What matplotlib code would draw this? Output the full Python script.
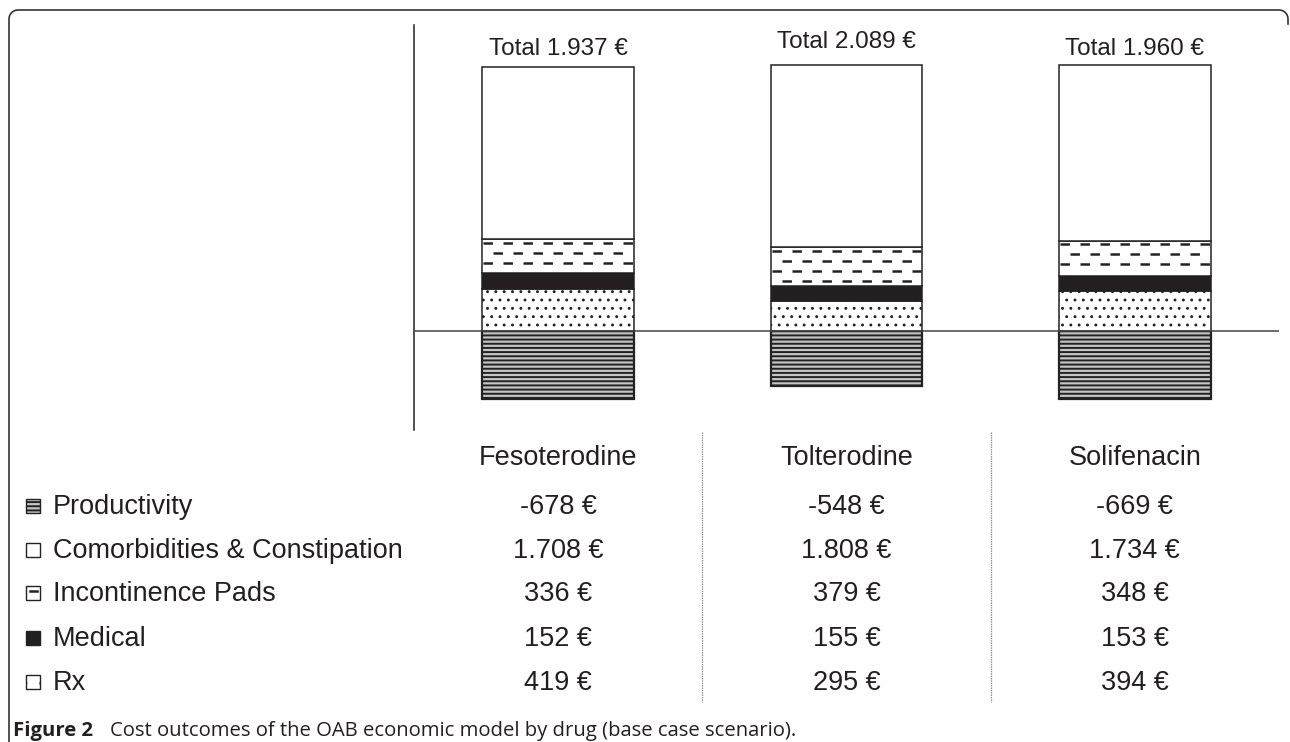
import numpy as np
import matplotlib
matplotlib.use('Agg')
import matplotlib.pyplot as plt
from matplotlib.patches import Rectangle
from matplotlib.lines import Line2D
from matplotlib.transforms import blended_transform_factory

# ── data ──────────────────────────────────────────────────────────────────────
drugs = ['Fesoterodine', 'Tolterodine', 'Solifenacin']
categories = ['Productivity', 'Comorbidities & Constipation', 'Incontinence Pads', 'Medical', 'Rx']
productivity = [-678, -548, -669]
comorbidities = [1708, 1808, 1734]
pads = [336, 379, 348]
medical = [152, 155, 153]
rx = [419, 295, 394]

plt.rcParams['font.family'] = ['Liberation Sans', 'DejaVu Sans']
plt.rcParams['lines.scale_dashes'] = False
plt.rcParams['hatch.linewidth'] = 1.4

W, H = 1290, 742
INK = '#231f20'


def fx(x):
    return x / W


def fy(y):
    return 1 - y / H


def eur(v):
    s = f'{abs(v):,}'.replace(',', '.')
    return ('-' if v < 0 else '') + s + ' €'


def thin_hatch(patches, lw):
    for p in patches:
        if hasattr(p, 'set_hatch_linewidth'):
            p.set_hatch_linewidth(lw)


totals = [p + c + d + m + r for p, c, d, m, r in zip(productivity, comorbidities, pads, medical, rx)]

fig = plt.figure(figsize=(W / 100, H / 100), dpi=100)

# ── frame (rounded corner top-left / top-right) ─────────────────────────────
r = 9
t = np.linspace(np.pi, np.pi / 2, 12)
tl_x = 9 + r + r * np.cos(t)
tl_y = 10 + r - r * np.sin(t)
t2 = np.linspace(np.pi / 2, 0, 12)
tr_x = 1288 - r + r * np.cos(t2)
tr_y = 10 + r - r * np.sin(t2)
px = np.concatenate([[9], tl_x, tr_x, [1288]])
py = np.concatenate([[H + 5], tl_y, tr_y, [24]])
fig.add_artist(Line2D(fx(px), fy(py), transform=fig.transFigure, color='#333333', lw=1.2))

# ── main axes ────────────────────────────────────────────────────────────────
ax = fig.add_axes([fx(414), fy(430), (1279 - 414) / W, (430 - 25) / H])
ax.set_xlim(-0.5, 2.5)
ax.set_ylim(-980, 3028)
for s in ('top', 'right', 'bottom'):
    ax.spines[s].set_visible(False)
ax.spines['left'].set_color('#222222')
ax.spines['left'].set_linewidth(1.1)
ax.set_xticks([])
ax.set_yticks([])
ax.axhline(0, color='#444444', lw=1.1, zorder=5)

x = np.arange(len(drugs))
w = 0.527
edge = dict(edgecolor='#222222', linewidth=1.1)
bot_med = np.array(rx)
bot_pads = bot_med + np.array(medical)
bot_com = bot_pads + np.array(pads)

ax.bar(x, productivity, w, color='#c4c4c4', hatch='----', zorder=3, edgecolor='#222222', linewidth=1.6)
rx_bars = ax.bar(x, rx, w, color='white', hatch='..', zorder=3, **edge)
thin_hatch(rx_bars, 0.9)
ax.bar(x, medical, w, bottom=bot_med, color='#231f20', zorder=3, **edge)
ax.bar(x, pads, w, bottom=bot_pads, color='white', zorder=3, **edge)
ax.bar(x, comorbidities, w, bottom=bot_com, color='white', zorder=3, **edge)

# dashed fill for the incontinence pads segment
ppd = (430 - 25) / (3028 + 980)  # pixels per data unit
for i in x:
    top = bot_com[i]
    k = 0
    while True:
        yy = top - (3.4 + 10 * k) / ppd
        if yy <= bot_pads[i] + 2 / ppd:
            break
        off = 0 if k % 2 == 0 else 7.2
        ax.plot([i - w / 2 + 0.004, i + w / 2 - 0.004], [yy, yy], color='#222222', lw=1.8,
                linestyle=(off, (6.8, 7.6)), dash_capstyle='butt', zorder=4)
        k += 1

trans = blended_transform_factory(ax.transData, fig.transFigure)

# totals above bars (baselines in pixels)
total_base = [55, 48, 55]
for i in x:
    fig.text(i, fy(total_base[i]), f'Total {eur(totals[i])}', transform=trans, ha='center',
             va='baseline', fontsize=17.5, color=INK)

# ── table below ──────────────────────────────────────────────────────────────
FS = 19.5
for i, d in enumerate(drugs):
    fig.text(i, fy(465), d, transform=trans, ha='center', va='baseline', fontsize=FS, color=INK)

rows = [productivity, comorbidities, pads, medical, rx]
row_base = [514, 558, 601, 646, 690]
for cat, vals, yy in zip(categories, rows, row_base):
    fig.text(fx(53), fy(yy), cat, ha='left', va='baseline', fontsize=FS, color=INK)
    for i, v in enumerate(vals):
        fig.text(i, fy(yy), eur(v), transform=trans, ha='center', va='baseline', fontsize=FS, color=INK)

# separators between columns
for sx in (0.5, 1.5):
    fig.add_artist(Line2D([sx, sx], [fy(432), fy(702)], transform=trans,
                          color='#8a8a8a', lw=0.9, linestyle=(0, (1, 0.7))))

# legend icons
icon_style = [
    dict(facecolor='#c4c4c4', hatch='----'),
    dict(facecolor='white'),
    dict(facecolor='white'),
    dict(facecolor='#231f20'),
    dict(facecolor='white', hatch='.'),
]
s = 14
icons = []
for st, yy in zip(icon_style, row_base):
    icons.append(fig.add_artist(Rectangle((fx(26), fy(yy - 1)), s / W, s / H, transform=fig.transFigure,
                                          edgecolor='#222222', linewidth=1.0, **st)))
thin_hatch(icons[4:], 0.9)
pad_y = row_base[2] - 1 - s * 0.62
fig.add_artist(Line2D([fx(29.5), fx(36.5)], [fy(pad_y), fy(pad_y)],
                      transform=fig.transFigure, color='#222222', lw=1.8))

# ── caption ──────────────────────────────────────────────────────────────────
fig.text(fx(13), fy(736), 'Figure 2', ha='left', va='baseline', fontsize=14.6, color=INK,
         fontweight='bold', family=['Open Sans', 'DejaVu Sans'])
fig.text(fx(110), fy(736), 'Cost outcomes of the OAB economic model by drug (base case scenario).',
         ha='left', va='baseline', fontsize=14.6, color=INK, family=['Open Sans', 'DejaVu Sans'])

fig.savefig('out.png', dpi=100, facecolor='white')
